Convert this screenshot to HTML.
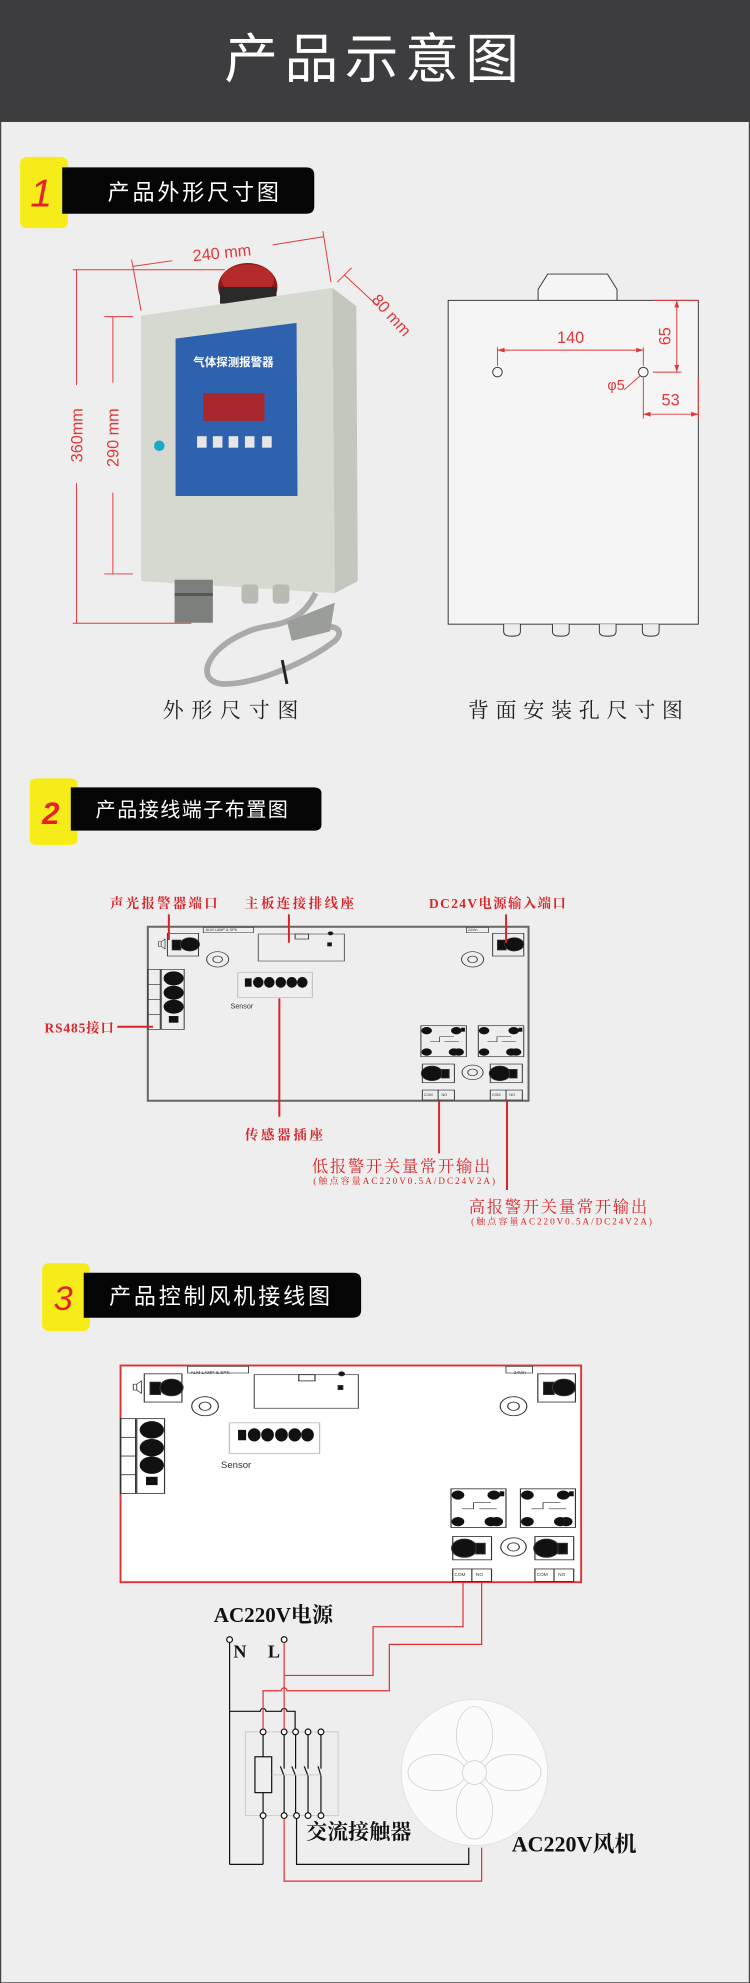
<!DOCTYPE html>
<html><head><meta charset="utf-8"><style>
html,body{margin:0;padding:0;background:#efeeee;}
svg{display:block}
.s{font-family:"Liberation Sans","Noto Sans CJK SC",sans-serif}
.r{font-family:"Liberation Serif","Noto Serif CJK SC",serif}
</style></head><body>
<svg width="750" height="1983" viewBox="0 0 1568 4146" xmlns="http://www.w3.org/2000/svg">
<defs>
<g id="board" fill="none" stroke="#333" stroke-width="2">
 <rect x="41" y="20" width="65" height="68"/>
 <rect x="51" y="40" width="18" height="30" fill="#111"/>
 <circle cx="88" cy="53" r="20" fill="#111"/>
 <path d="M22 45 h6 v14 h-6z M28 45 l8 -8 v30 l-8 -8" stroke-width="1.5"/>
 <rect x="116" y="2" width="105" height="16" stroke-width="1.5"/>
 <circle cx="146" cy="98" r="23"/><circle cx="146" cy="98" r="10"/>
 <circle cx="679" cy="98" r="23"/><circle cx="679" cy="98" r="10"/>
 <rect x="231" y="22" width="180" height="81" stroke="#555"/>
 <rect x="308" y="22" width="28" height="15"/>
 <rect x="376" y="48" width="8" height="10" fill="#111"/>
 <circle cx="382" cy="20" r="5" fill="#111"/>
 <rect x="188" y="138" width="156" height="74" stroke="#bbb" stroke-width="2"/>
 <rect x="203" y="155" width="14" height="25" fill="#111" stroke="none"/>
 <g fill="#111" stroke="none"><ellipse cx="231" cy="167" rx="11" ry="16"/><ellipse cx="254" cy="167" rx="11" ry="16"/><ellipse cx="278" cy="167" rx="11" ry="16"/><ellipse cx="301" cy="167" rx="11" ry="16"/><ellipse cx="323" cy="167" rx="11" ry="16"/></g>
 <rect x="0" y="128" width="26" height="180"/>
 <line x1="0" y1="173" x2="26" y2="173"/><line x1="0" y1="218" x2="26" y2="218"/><line x1="0" y1="263" x2="26" y2="263"/>
 <rect x="28" y="128" width="48" height="180"/>
 <g fill="#111" stroke="none"><circle cx="54" cy="155" r="21"/><circle cx="54" cy="198" r="21"/><circle cx="54" cy="240" r="21"/><rect x="44" y="268" width="20" height="20"/></g>
 <rect x="721" y="20" width="65" height="68"/>
 <rect x="731" y="40" width="18" height="30" fill="#111"/>
 <circle cx="766" cy="53" r="20" fill="#111"/>
 <rect x="666" y="2" width="46" height="16" stroke-width="1.5"/>
 <g id="relay">
  <rect x="571" y="297" width="95" height="93"/>
  <g fill="#111" stroke="none"><circle cx="583" cy="312" r="11"/><circle cx="583" cy="376" r="11"/><circle cx="650" cy="376" r="11"/><circle cx="640" cy="376" r="11"/><circle cx="645" cy="312" r="11"/><rect x="655" y="303" width="8" height="12"/></g>
  <path d="M590 345 h20 v-15 h30 M620 345 h30" stroke-width="1.5"/>
 </g>
 <use href="#relay" x="120"/>
 <rect x="574" y="412" width="67" height="56"/>
 <circle cx="594" cy="440" r="22" fill="#111"/>
 <rect x="614" y="428" width="16" height="26" fill="#111"/>
 <rect x="574" y="490" width="67" height="30"/><line x1="607" y1="490" x2="607" y2="520"/>
 <rect x="716" y="412" width="67" height="56"/>
 <circle cx="736" cy="440" r="22" fill="#111"/>
 <rect x="756" y="428" width="16" height="26" fill="#111"/>
 <rect x="716" y="490" width="67" height="30"/><line x1="749" y1="490" x2="749" y2="520"/>
 <circle cx="679" cy="437" r="22"/><circle cx="679" cy="437" r="10"/>
</g>
</defs>

<rect x="1" y="0" width="1566" height="4146" fill="#efeeee" stroke="#444" stroke-width="3"/>
<rect x="0" y="0" width="1568" height="255" fill="#3d3d3f"/>
<text x="784" y="162" text-anchor="middle" class="s" font-size="112" fill="#fff" letter-spacing="14">产品示意图</text>

<!-- SECTION 1 -->
<rect x="42" y="328" width="100" height="149" rx="14" fill="#f6ec1a"/>
<path d="M130 350 H640 Q657 350 657 366 V431 Q657 447 640 447 H130Z" fill="#050505"/>
<text x="86" y="432" class="s" font-size="82" font-style="italic" fill="#e4222a" text-anchor="middle">1</text>
<text x="225" y="418" class="s" font-size="46" fill="#fff" letter-spacing="6">产品外形尺寸图</text>

<g>
 <ellipse cx="518" cy="600" rx="62" ry="50" fill="#8a1a1a"/>
 <ellipse cx="518" cy="585" rx="55" ry="32" fill="#b52a2a"/>
 <rect x="460" y="600" width="118" height="35" fill="#2a2a2a"/>
 <polygon points="295,660 695,602 700,1240 295,1215" fill="#d6d9cf"/>
 <polygon points="695,602 745,640 748,1215 700,1240" fill="#c3c7bd"/>
 <polygon points="367,708 620,675 622,1037 367,1037" fill="#2f62ae"/>
 <text x="488" y="765" class="s" font-size="24" fill="#fff" text-anchor="middle" font-weight="bold">气体探测报警器</text>
 <rect x="425" y="822" width="128" height="58" fill="#a8262e"/>
 <g fill="#e6e6e6"><rect x="412" y="912" width="20" height="24"/><rect x="445" y="912" width="20" height="24"/><rect x="478" y="912" width="20" height="24"/><rect x="512" y="912" width="20" height="24"/><rect x="548" y="912" width="20" height="24"/></g>
 <circle cx="333" cy="932" r="11" fill="#1aa8c8"/>
 <rect x="365" y="1212" width="80" height="90" fill="#7d7f7c"/>
 <rect x="365" y="1240" width="80" height="6" fill="#555"/>
 <rect x="505" y="1222" width="35" height="40" rx="8" fill="#b8bbb4"/>
 <rect x="570" y="1222" width="35" height="40" rx="8" fill="#b8bbb4"/>
 <path d="M660 1240 C620 1320 560 1300 520 1320 C420 1360 410 1430 470 1430 C540 1430 650 1380 700 1340 C730 1310 680 1300 640 1320" fill="none" stroke="#aaa" stroke-width="12"/>
 <path d="M600 1300 L700 1260 L690 1320 L610 1340Z" fill="#9b9d98"/>
 <path d="M590 1380 L600 1430" stroke="#222" stroke-width="6"/>
</g>
<g stroke="#e0383a" stroke-width="2" fill="none">
 <line x1="160" y1="563" x2="160" y2="805"/><line x1="160" y1="1010" x2="160" y2="1303"/>
 <line x1="152" y1="564" x2="470" y2="564"/><line x1="152" y1="1303" x2="400" y2="1303"/>
 <line x1="236" y1="662" x2="236" y2="800"/><line x1="236" y1="1030" x2="236" y2="1200"/>
 <line x1="218" y1="662" x2="278" y2="662"/><line x1="218" y1="1200" x2="278" y2="1200"/>
 <line x1="278" y1="557" x2="360" y2="545"/><line x1="570" y1="512" x2="676" y2="495"/>
 <line x1="275" y1="543" x2="295" y2="650"/><line x1="675" y1="483" x2="692" y2="590"/>
 <line x1="705" y1="590" x2="735" y2="560"/><line x1="720" y1="575" x2="790" y2="640"/>
</g>
<g class="s" font-size="34" fill="#e0383a">
 <text transform="translate(172,910) rotate(-90)" text-anchor="middle">360mm</text>
 <text transform="translate(248,915) rotate(-90)" text-anchor="middle">290 mm</text>
 <text transform="translate(465,540) rotate(-6)" text-anchor="middle">240 mm</text>
 <text transform="translate(775,628) rotate(48)">80 mm</text>
</g>
<g stroke="#333" stroke-width="2" fill="#f5f5f5">
 <path d="M1125 628 V605 L1145 573 H1270 L1290 605 V628"/>
 <rect x="937" y="628" width="523" height="677"/>
 <circle cx="1040" cy="778" r="10"/><circle cx="1345" cy="778" r="10"/>
 <g fill="#eee"><path d="M1053 1305 v15 q0 10 15 10 h5 q15 0 15 -10 v-15"/><path d="M1155 1305 v15 q0 10 15 10 h5 q15 0 15 -10 v-15"/><path d="M1253 1305 v15 q0 10 15 10 h5 q15 0 15 -10 v-15"/><path d="M1343 1305 v15 q0 10 15 10 h5 q15 0 15 -10 v-15"/></g>
</g>
<g stroke="#e0383a" stroke-width="2" fill="#e0383a">
 <line x1="1040" y1="732" x2="1345" y2="732"/>
 <line x1="1040" y1="726" x2="1040" y2="765"/><line x1="1345" y1="726" x2="1345" y2="765"/>
 <line x1="1415" y1="628" x2="1415" y2="778"/><line x1="1365" y1="628" x2="1460" y2="628"/><line x1="1365" y1="778" x2="1425" y2="778"/>
 <line x1="1345" y1="866" x2="1460" y2="866"/><line x1="1345" y1="790" x2="1345" y2="875"/><line x1="1460" y1="790" x2="1460" y2="875"/>
 <line x1="1305" y1="815" x2="1338" y2="786"/>
 <polygon points="1040,732 1055,727 1055,737" stroke="none"/><polygon points="1345,732 1330,727 1330,737" stroke="none"/>
 <polygon points="1415,628 1410,643 1420,643" stroke="none"/><polygon points="1415,778 1410,763 1420,763" stroke="none"/>
 <polygon points="1345,866 1360,861 1360,871" stroke="none"/><polygon points="1460,866 1445,861 1445,871" stroke="none"/>
</g>
<g class="s" font-size="34" fill="#e0383a">
 <text x="1193" y="717" text-anchor="middle">140</text>
 <text transform="translate(1402,703) rotate(-90)" text-anchor="middle">65</text>
 <text x="1402" y="848" text-anchor="middle">53</text>
 <text x="1288" y="815" text-anchor="middle" font-size="30">φ5</text>
</g>
<text x="490" y="1500" class="r" font-size="44" fill="#222" text-anchor="middle" letter-spacing="16">外形尺寸图</text>
<text x="1210" y="1500" class="r" font-size="44" fill="#222" text-anchor="middle" letter-spacing="14">背面安装孔尺寸图</text>

<!-- SECTION 2 -->
<g transform="translate(0,1589)">
 <g transform="scale(1,0.697)">
  <rect x="62" y="55" width="100" height="200" rx="14" fill="#f6ec1a"/>
  <path d="M148 82 H655 Q672 82 672 100 V195 Q672 212 655 212 H148Z" fill="#050505"/>
  <rect x="309" y="500" width="796" height="522" fill="none" stroke="#666" stroke-width="2" vector-effect="non-scaling-stroke"/>
  <use href="#board" x="309" y="500"/>
  <g stroke="#d7262b" stroke-width="2">
   <line x1="353" y1="463" x2="353" y2="540" vector-effect="non-scaling-stroke"/><line x1="604" y1="463" x2="604" y2="548" vector-effect="non-scaling-stroke"/><line x1="1058" y1="463" x2="1058" y2="548" vector-effect="non-scaling-stroke"/>
   <line x1="245" y1="800" x2="320" y2="800" vector-effect="non-scaling-stroke"/>
   <line x1="584" y1="715" x2="584" y2="1070" vector-effect="non-scaling-stroke"/>
   <line x1="918" y1="1022" x2="918" y2="1180" vector-effect="non-scaling-stroke"/><line x1="1060" y1="1022" x2="1060" y2="1290" vector-effect="non-scaling-stroke"/>
  </g>
 </g>
 <text x="106" y="134" class="s" font-size="66" font-style="italic" font-weight="bold" fill="#e4222a" text-anchor="middle">2</text>
 <text x="200" y="118" class="s" font-size="42" fill="#fff" letter-spacing="3">产品接线端子布置图</text>
 <g class="s" fill="#333" font-size="8"><text x="430" y="358">ALM LAMP &amp; SPK</text><text x="978" y="358">24Vin</text><text x="886" y="703">COM</text><text x="923" y="703">NO</text><text x="1028" y="703">COM</text><text x="1065" y="703">NO</text></g>
 <text x="482" y="520" class="s" font-size="15" fill="#333">Sensor</text>
 <g class="r" fill="#d7262b" font-size="28" font-weight="bold">
  <text x="230" y="309" textLength="225">声光报警器端口</text>
  <text x="512" y="309" textLength="228">主板连接排线座</text>
  <text x="897" y="309" textLength="286">DC24V电源输入端口</text>
  <text x="93" y="570" textLength="145">RS485接口</text>
  <text x="512" y="793" textLength="163">传感器插座</text>
 </g>
 <g class="r" fill="#d7262b">
  <text x="652" y="861" font-size="34" textLength="373">低报警开关量常开输出</text>
  <text x="655" y="887" font-size="19" textLength="380">(触点容量AC220V0.5A/DC24V2A)</text>
  <text x="980" y="946" font-size="34" textLength="373">高报警开关量常开输出</text>
  <text x="985" y="971" font-size="19" textLength="378">(触点容量AC220V0.5A/DC24V2A)</text>
 </g>
</g>

<!-- SECTION 3 -->
<g transform="translate(0,2613)">
 <rect x="88" y="28" width="100" height="142" rx="14" fill="#f6ec1a"/>
 <path d="M175 48 H738 Q755 48 755 64 V126 Q755 142 738 142 H175Z" fill="#050505"/>
 <text x="132" y="126" class="s" font-size="72" font-style="italic" fill="#e4222a" text-anchor="middle">3</text>
 <text x="228" y="113" class="s" font-size="46" fill="#fff" letter-spacing="6">产品控制风机接线图</text>
 <rect x="252" y="242" width="963" height="453" fill="#fff" stroke="#d33" stroke-width="4"/>
 <use href="#board" transform="translate(252,242) scale(1.21,0.868)"/>
 <g class="s" fill="#333" font-size="10"><text x="398" y="260">ALM LAMP &amp; SPK</text><text x="1074" y="260">24Vin</text><text x="950" y="682">COM</text><text x="995" y="682">NO</text><text x="1122" y="682">COM</text><text x="1167" y="682">NO</text></g>
 <text x="462" y="456" class="s" font-size="20" fill="#333">Sensor</text>
 <circle cx="992" cy="1093" r="153" fill="#fbfbfb" stroke="#e2e2e2" stroke-width="2"/>
 <g fill="#fbfbfb" stroke="#ccc" stroke-width="1.5">
  <ellipse cx="992" cy="1015" rx="38" ry="60"/><ellipse cx="992" cy="1172" rx="38" ry="60"/>
  <ellipse cx="913" cy="1093" rx="60" ry="38"/><ellipse cx="1071" cy="1093" rx="60" ry="38"/>
  <circle cx="992" cy="1093" r="25"/>
 </g>
 <rect x="513" y="1008" width="194" height="175" fill="none" stroke="#ccc" stroke-width="2"/>
 <g stroke="#111" stroke-width="2.5" fill="none">
  <line x1="480" y1="820" x2="480" y2="1285"/><line x1="480" y1="1285" x2="550" y2="1285"/><line x1="550" y1="1285" x2="550" y2="1188"/>
  <path d="M480 965 H544 a6 6 0 0 1 12 0 H588 a6 6 0 0 1 12 0 H617 V1002"/>
  <line x1="550" y1="1014" x2="550" y2="1060"/><line x1="550" y1="1135" x2="550" y2="1178"/>
  <rect x="533" y="1060" width="35" height="75"/>
  <line x1="594" y1="1014" x2="594" y2="1085"/><line x1="594" y1="1100" x2="594" y2="1178"/><line x1="586" y1="1080" x2="594" y2="1100"/>
  <line x1="618" y1="1014" x2="618" y2="1085"/><line x1="618" y1="1100" x2="618" y2="1178"/><line x1="610" y1="1080" x2="618" y2="1100"/>
  <line x1="644" y1="1014" x2="644" y2="1085"/><line x1="644" y1="1100" x2="644" y2="1178"/><line x1="636" y1="1080" x2="644" y2="1100"/>
  <line x1="671" y1="1014" x2="671" y2="1085"/><line x1="671" y1="1100" x2="671" y2="1178"/><line x1="665" y1="1080" x2="671" y2="1100"/>
  <line x1="568" y1="1098" x2="671" y2="1098" stroke="#bbb" stroke-width="1.5"/>
  <path d="M620 1188 V1285 H980 V1250"/>
  <g fill="#fff"><circle cx="550" cy="1008" r="6"/><circle cx="594" cy="1008" r="6"/><circle cx="618" cy="1008" r="6"/><circle cx="644" cy="1008" r="6"/><circle cx="671" cy="1008" r="6"/>
  <circle cx="550" cy="1183" r="6"/><circle cx="594" cy="1183" r="6"/><circle cx="620" cy="1183" r="6"/><circle cx="644" cy="1183" r="6"/><circle cx="671" cy="1183" r="6"/>
  <circle cx="480" cy="815" r="6"/><circle cx="594" cy="815" r="6"/></g>
 </g>
 <g stroke="#e03030" stroke-width="2.5" fill="none">
  <path d="M968 695 V788 H780 V890 H594"/>
  <path d="M1007 695 V825 H814 V922 H600 a6 6 0 0 0 -12 0 H550 V1002"/>
  <path d="M594 821 V1002"/>
  <path d="M594 1189 V1320 H1007 V1250"/>
 </g>
 <g class="r" fill="#111" font-weight="bold">
  <text x="447" y="778" font-size="44">AC220V电源</text>
  <text x="488" y="852" font-size="38">N</text>
  <text x="560" y="852" font-size="38">L</text>
  <text x="640" y="1232" font-size="44">交流接触器</text>
  <text x="1070" y="1258" font-size="46">AC220V风机</text>
 </g>
</g>
</svg>
</body></html>
